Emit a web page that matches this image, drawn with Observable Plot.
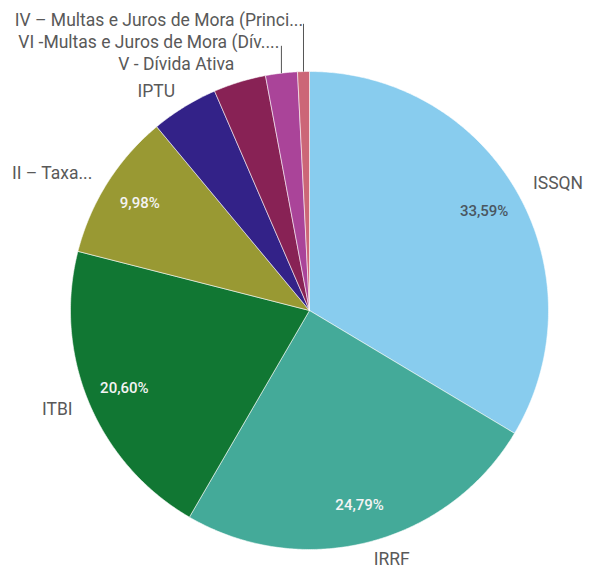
<!DOCTYPE html>
<html>
<head>
<meta charset="utf-8">
<script src="https://cdn.jsdelivr.net/npm/d3@7"></script>
<script src="https://cdn.jsdelivr.net/npm/@observablehq/plot@0.6"></script>
<style>
  html, body { margin: 0; padding: 0; background: #ffffff; }
  #chart { width: 593px; height: 572px; }
</style>
</head>
<body>
<div id="chart"></div>
<script>
// ---- data ----
const categories = [
  "ISSQN",
  "IRRF",
  "ITBI",
  "II – Taxa...",
  "IPTU",
  "V - Dívida Ativa",
  "VI -Multas e Juros de Mora (Dív....",
  "IV – Multas e Juros de Mora (Princi..."
];
const values = [33.59, 24.79, 20.60, 9.98, 4.54, 3.55, 2.15, 0.80];
const colors = ["#88ccee", "#44aa99", "#117733", "#999933", "#332288", "#882255", "#aa4499", "#cc6677"];

// ---- layout helpers ----
const W = 593, H = 572;
const R = 239;             // pie radius in px
const cx = 309, cy = 310;  // pie centre in px
const total = d3.sum(values);

let acc = 0;
const slices = categories.map((name, i) => {
  const a0 = acc / total * 2 * Math.PI;
  acc += values[i];
  const a1 = acc / total * 2 * Math.PI;
  return {name, value: values[i], a0, a1, mid: (a0 + a1) / 2, i};
});

// polygon points for each slice (unit radius; angle clockwise from 12 o'clock)
const pts = [];
for (const s of slices) {
  pts.push({name: s.name, x: 0, y: 0});
  const n = Math.max(2, Math.ceil((s.a1 - s.a0) / (Math.PI / 360)));
  for (let k = 0; k <= n; k++) {
    const a = s.a0 + (s.a1 - s.a0) * k / n;
    pts.push({name: s.name, x: Math.sin(a), y: Math.cos(a)});
  }
  pts.push({name: s.name, x: 0, y: 0});
}

// percentage labels (inside)
const fmt = v => v.toFixed(2).replace(".", ",") + "%";
const pct = slices.filter(s => s.value > 5).map(s => ({
  text: fmt(s.value), x: 0.84 * Math.sin(s.mid), y: 0.84 * Math.cos(s.mid), i: s.i
}));

// outside labels with simple collision stacking
const rl = 1.075, gap = 22 / R;
const outs = slices.map(s => ({
  name: s.name, mid: s.mid,
  x: rl * Math.sin(s.mid), y: rl * Math.cos(s.mid),
  right: Math.sin(s.mid) >= 0, leader: false
}));
const leftTop = outs.filter(o => !o.right && o.y > 0);
for (let k = 1; k < leftTop.length; k++) {
  const prev = leftTop[k - 1], cur = leftTop[k];
  if (cur.y - prev.y < gap) { cur.y = prev.y + gap; cur.leader = true; }
}
const leaders = outs.filter(o => o.leader).map(o => ({
  x: Math.sin(o.mid), y1: Math.cos(o.mid), y2: o.y - 3 / R
}));

const labelFont = "Roboto, 'Noto Sans', sans-serif";

const plot = Plot.plot({
  width: W, height: H,
  margin: 0,
  x: {domain: [-1, 1], range: [cx - R, cx + R], axis: null},
  y: {domain: [-1, 1], range: [cy + R, cy - R], axis: null},
  color: {domain: categories, range: colors},
  style: {background: "#ffffff", fontFamily: labelFont},
  marks: [
    Plot.line(pts, {x: "x", y: "y", z: "name", fill: "name", stroke: "#ffffff", strokeWidth: 0.8, strokeOpacity: 0.7, curve: "linear"}),
    Plot.link(leaders, {x1: "x", x2: "x", y1: "y1", y2: "y2", stroke: "#555555", strokeWidth: 1}),
    Plot.text(outs.filter(o => o.right), {x: "x", y: "y", text: "name", textAnchor: "start", fill: "#595959", fontSize: 17.5, fontFamily: labelFont}),
    Plot.text(outs.filter(o => !o.right), {x: "x", y: "y", text: "name", textAnchor: "end", fill: "#595959", fontSize: 17.5, fontFamily: labelFont}),
    Plot.text(pct.filter(p => p.i === 0), {x: "x", y: "y", text: "text", fill: "#4a5660", fontSize: 15, fontWeight: 500, fontFamily: labelFont}),
    Plot.text(pct.filter(p => p.i !== 0), {x: "x", y: "y", text: "text", fill: "#f4f4f4", fontSize: 15, fontWeight: 500, fontFamily: labelFont})
  ]
});
document.getElementById("chart").appendChild(plot);
</script>
</body>
</html>
